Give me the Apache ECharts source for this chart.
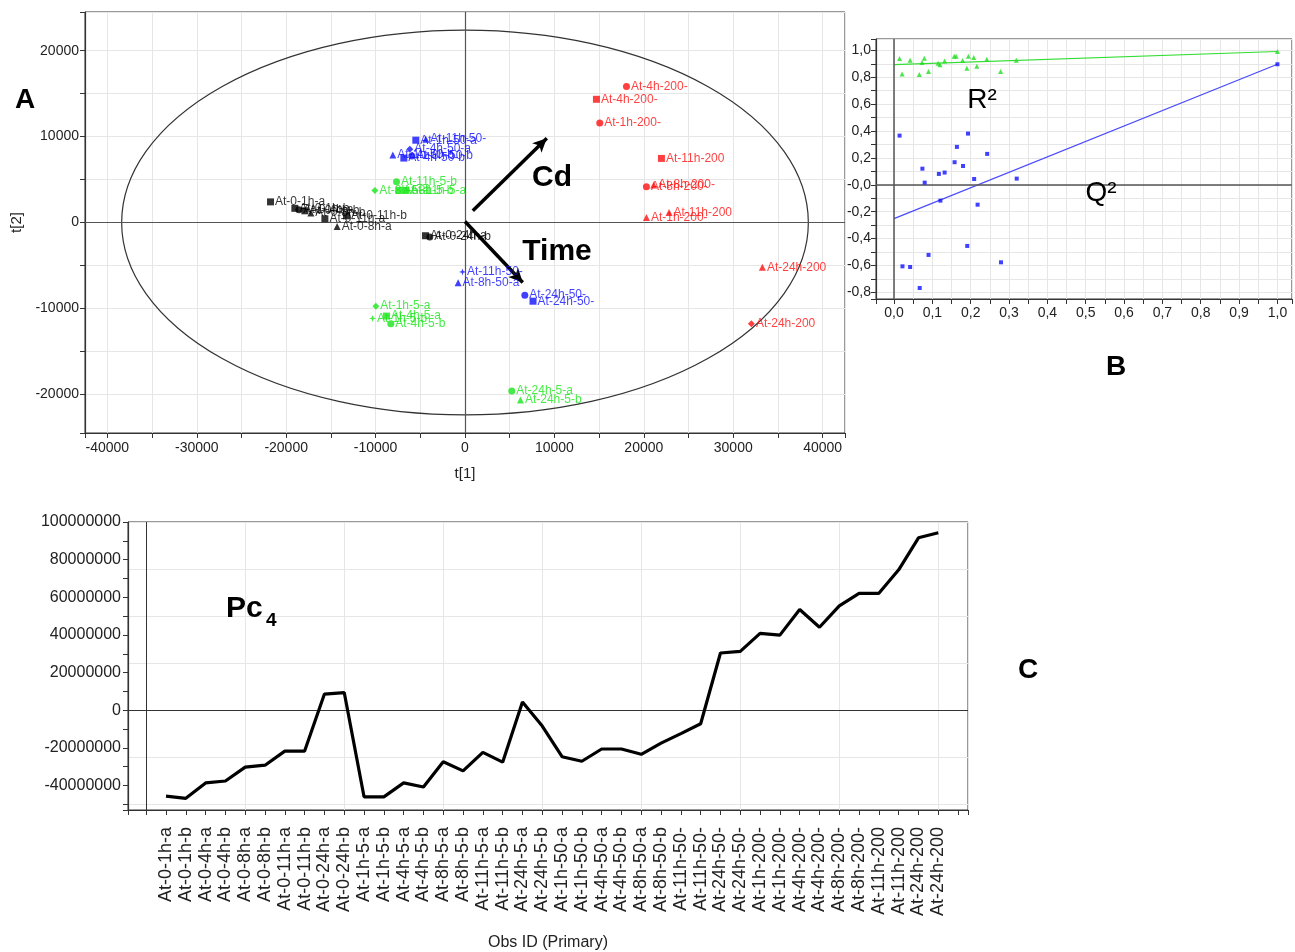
<!DOCTYPE html>
<html>
<head>
<meta charset="utf-8">
<script src="https://cdn.jsdelivr.net/npm/echarts@6/dist/echarts.min.js"></script>
<style>
  html, body { margin: 0; padding: 0; background: #fff; }
  #chart { width: 1295px; height: 952px; }
</style>
</head>
<body>
<div id="chart"></div>
<script>
// ---- panel A : scores t[1] / t[2] ----
const t1Cd0 = [-21750, -19030, -18580, -17910, -17240, -15670, -14300, -13250, -4420, -3940]
const t2Cd0 = [2400, 1650, 1470, 1360, 1120, 430, -460, 780, -1540, -1690]
const obsCd0 = ['At-0-1h-a', 'At-0-1h-b', 'At-0-4h-a', 'At-0-4h-b', 'At-0-8h-b', 'At-0-11h-a', 'At-0-8h-a', 'At-0-11h-b', 'At-0-24h-a', 'At-0-24h-b']

const t1Cd5 = [-7660, -10080, -7400, -6620, -9970, -10340, -8780, -8300, 5230, 6200]
const t2Cd5 = [4750, 3710, 3730, 3730, -9740, -11160, -10890, -11780, -19620, -20660]
const obsCd5 = ['At-11h-5-b', 'At-8h-5-a', 'At-8h-5-b', 'At-11h-5-a', 'At-1h-5-a', 'At-1h-5-b', 'At-4h-5-a', 'At-4h-5-b', 'At-24h-5-a', 'At-24h-5-b']

const t1Cd50 = [-5500, -4380, -6170, -8070, -6840, -5950, -280, -770, 6690, 7610]
const t2Cd50 = [9580, 9700, 8540, 7850, 7500, 7730, -5750, -7020, -8460, -9160]
const obsCd50 = ['At-1h-50-a', 'At-11h-50-', 'At-4h-50-a', 'At-1h-50-b', 'At-4h-50-b', 'At-8h-50-b', 'At-11h-50-', 'At-8h-50-a', 'At-24h-50-', 'At-24h-50-']

const t1Cd200 = [18060, 14700, 15070, 21970, 20290, 21110, 20290, 22820, 33260, 32030]
const t2Cd200 = [15840, 14340, 11590, 7460, 4170, 4370, 580, 1160, -5220, -11780]
const obsCd200 = ['At-4h-200-', 'At-4h-200-', 'At-1h-200-', 'At-11h-200', 'At-8h-200-', 'At-8h-200-', 'At-1h-200-', 'At-11h-200', 'At-24h-200', 'At-24h-200']

// Hotelling T2 ellipse semi axes (t[1], t[2])
const ellipseAxes = [38400, 22400]
// loading arrows [start, end] in score units
const cdArrow = [[870, 1360], [9150, 9820]]
const timeArrow = [[0, 120], [6460, -6990]]

// ---- panel B : permutation test ----
const r2X = [0.0145, 0.021, 0.042, 0.066, 0.073, 0.079, 0.09, 0.115, 0.12, 0.132, 0.157, 0.162, 0.179, 0.19, 0.194, 0.208, 0.216, 0.242, 0.278, 0.319, 1.0]
const r2Y = [0.94, 0.825, 0.927, 0.82, 0.91, 0.942, 0.843, 0.905, 0.893, 0.922, 0.957, 0.957, 0.925, 0.868, 0.957, 0.947, 0.883, 0.935, 0.843, 0.927, 0.992]
const q2X = [0.0145, 0.022, 0.042, 0.067, 0.074, 0.08, 0.09, 0.117, 0.121, 0.132, 0.158, 0.164, 0.18, 0.191, 0.193, 0.209, 0.218, 0.243, 0.279, 0.32, 1.0]
const q2Y = [0.366, -0.607, -0.612, -0.768, 0.12, 0.016, -0.522, 0.081, -0.118, 0.091, 0.168, 0.282, 0.14, -0.455, 0.381, 0.043, -0.148, 0.23, -0.577, 0.046, 0.897]
const r2Fit = [[0, 0.895], [1, 0.992]]
const q2Fit = [[0, -0.252], [1, 0.897]]

// ---- panel C : Pc4 ----
const obsIds = [
  'At-0-1h-a', 'At-0-1h-b', 'At-0-4h-a', 'At-0-4h-b', 'At-0-8h-a', 'At-0-8h-b', 'At-0-11h-a', 'At-0-11h-b', 'At-0-24h-a', 'At-0-24h-b',
  'At-1h-5-a', 'At-1h-5-b', 'At-4h-5-a', 'At-4h-5-b', 'At-8h-5-a', 'At-8h-5-b', 'At-11h-5-a', 'At-11h-5-b', 'At-24h-5-a', 'At-24h-5-b',
  'At-1h-50-a', 'At-1h-50-b', 'At-4h-50-a', 'At-4h-50-b', 'At-8h-50-a', 'At-8h-50-b', 'At-11h-50-', 'At-11h-50-', 'At-24h-50-', 'At-24h-50-',
  'At-1h-200-', 'At-1h-200-', 'At-4h-200-', 'At-4h-200-', 'At-8h-200-', 'At-8h-200-', 'At-11h-200', 'At-11h-200', 'At-24h-200', 'At-24h-200'
]
const pc4 = [
  -45600000, -46800000, -38600000, -37600000, -30200000, -29200000, -21700000, -21700000, 8600000, 9400000,
  -46000000, -46000000, -38600000, -40800000, -27400000, -32200000, -22400000, -27600000, 4400000, -8400000,
  -24700000, -27100000, -20600000, -20600000, -23400000, -17500000, -12400000, -7200000, 30400000, 31300000,
  40800000, 39900000, 53500000, 44100000, 55400000, 62100000, 62100000, 74600000, 91600000, 94300000
]

// marker shapes (style, not data)
const star = 'path://M0,-10L2.5,-2.5L10,0L2.5,2.5L0,10L-2.5,2.5L-10,0L-2.5,-2.5Z'
const symCd0 = ['rect', 'rect', 'circle', 'rect', 'triangle', 'rect', 'triangle', 'rect', 'rect', 'circle']
const symCd5 = ['circle', 'diamond', 'rect', 'rect', 'diamond', star, 'rect', 'circle', 'circle', 'triangle']
const symCd50 = ['rect', 'triangle', 'diamond', 'triangle', 'rect', 'circle', star, 'triangle', 'circle', 'rect']
const symCd200 = ['circle', 'rect', 'circle', 'rect', 'circle', 'triangle', 'triangle', 'triangle', 'triangle', 'diamond']

const FONT = 'Liberation Sans, Arial, Helvetica, sans-serif'
const gridLine = { show: true, lineStyle: { color: '#e6e6e6', width: 1 } }
const axisLineDark = { show: true, onZero: false, lineStyle: { color: '#333', width: 1.2 } }
const tickOut = { show: true, inside: false, length: 5, lineStyle: { color: '#333' } }
const isMult = (v, step) => Math.abs(v / step - Math.round(v / step)) < 1e-6
const comma = v => {
  if (Math.abs(v) < 1e-9) return '-0,0'
  const s = Math.abs(v).toFixed(1).replace('.', ',')
  return v < 0 ? '-' + s : s
}

const scoreSeries = (xs, ys, names, syms, color) => ({
  type: 'scatter',
  xAxisIndex: 0,
  yAxisIndex: 0,
  symbolSize: 7,
  itemStyle: { color: color },
  label: {
    show: true, position: 'right', distance: 1,
    color: color, fontSize: 12, fontFamily: FONT,
    formatter: p => p.name
  },
  data: xs.map((x, i) => ({ name: names[i], value: [x, ys[i]], symbol: syms[i] })),
  z: 5
})

const txt = (x, y, text, font, align) => ({
  type: 'text', x: x, y: y, z: 100,
  style: { text: text, font: font, textAlign: align || 'center', textVerticalAlign: 'middle', fill: '#000', stroke: null, lineWidth: 0 }
})

const chart = echarts.init(document.getElementById('chart'))
chart.setOption({
  backgroundColor: '#fff',
  animation: false,
  textStyle: { fontFamily: FONT },
  grid: [
    { left: 85, right: 450, top: 12, bottom: 519, show: true, borderColor: '#333', borderWidth: 1 },
    { left: 876, right: -4, top: 39, bottom: 653, show: true, borderColor: '#333', borderWidth: 1 },
    { left: 128, right: 327, top: 522, bottom: 137, show: true, borderColor: '#333', borderWidth: 1 }
  ],
  xAxis: [
    {
      type: 'value', gridIndex: 0, min: -42500, max: 42500, minInterval: 5000, maxInterval: 5000,
      name: 't[1]', nameLocation: 'middle', nameGap: 33,
      nameTextStyle: { fontSize: 15, color: '#222', fontFamily: FONT },
      axisLine: axisLineDark, axisTick: tickOut, splitLine: gridLine,
      axisLabel: { fontSize: 14, color: '#222', margin: 8, formatter: v => isMult(v, 10000) ? String(v) : '' }
    },
    {
      type: 'value', gridIndex: 1, min: -0.047, max: 1.038, minInterval: 0.05, maxInterval: 0.05,
      axisLine: axisLineDark, axisTick: tickOut, splitLine: gridLine,
      axisLabel: { fontSize: 14, color: '#222', margin: 7, formatter: v => isMult(v, 0.1) && v > -0.01 ? v.toFixed(1).replace('.', ',') : '' }
    },
    {
      type: 'value', gridIndex: 2, min: -0.92, max: 41.5, minInterval: 1, maxInterval: 1,
      name: 'Obs ID (Primary)', nameLocation: 'middle', nameGap: 125,
      nameTextStyle: { fontSize: 16, color: '#222', fontFamily: FONT },
      axisLine: axisLineDark, axisTick: tickOut, splitLine: { show: false },
      axisLabel: {
        fontSize: 18, color: '#222', rotate: 90, margin: 17,
        formatter: v => (Number.isInteger(v) && v >= 1 && v <= obsIds.length) ? obsIds[v - 1] : ''
      }
    },
    {
      type: 'value', gridIndex: 2, min: -0.92, max: 41.5, minInterval: 5, maxInterval: 5,
      axisLine: { show: false }, axisTick: { show: false }, axisLabel: { show: false },
      splitLine: gridLine
    }
  ],
  yAxis: [
    {
      type: 'value', gridIndex: 0, min: -24500, max: 24500, minInterval: 5000, maxInterval: 5000,
      name: 't[2]', nameLocation: 'middle', nameGap: 58, nameRotate: 90,
      nameTextStyle: { fontSize: 15, color: '#222', fontFamily: FONT },
      axisLine: axisLineDark, axisTick: tickOut, splitLine: gridLine,
      axisLabel: { fontSize: 14, color: '#222', margin: 6, formatter: v => isMult(v, 10000) ? String(v) : '' }
    },
    {
      type: 'value', gridIndex: 1, min: -0.85, max: 1.085, minInterval: 0.1, maxInterval: 0.1,
      axisLine: axisLineDark, axisTick: tickOut, splitLine: gridLine,
      axisLabel: { fontSize: 14, color: '#222', margin: 5, formatter: v => isMult(v, 0.2) ? comma(v) : '' }
    },
    {
      type: 'value', gridIndex: 2, min: -53000000, max: 100000000, minInterval: 10000000, maxInterval: 10000000,
      axisLine: axisLineDark, axisTick: tickOut, splitLine: { show: false },
      axisLabel: { fontSize: 16, color: '#222', margin: 7, formatter: v => isMult(v, 20000000) ? String(v) : '' }
    },
    {
      type: 'value', gridIndex: 2, min: -53000000, max: 100000000, minInterval: 25000000, maxInterval: 25000000,
      axisLine: { show: false }, axisTick: { show: false }, axisLabel: { show: false },
      splitLine: gridLine
    }
  ],
  series: [
    // panel A
    {
      type: 'custom',
      xAxisIndex: 0,
      yAxisIndex: 0,
      silent: true,
      data: [[0, 0, ellipseAxes[0], ellipseAxes[1]]],
      encode: { x: 0, y: 1 },
      renderItem: (params, api) => {
        const c = api.coord([api.value(0), api.value(1)])
        const s = api.size([api.value(2), api.value(3)])
        const rx = s[0], ry = s[1]
        return {
          type: 'path',
          shape: {
            pathData: 'M' + (c[0] - rx) + ' ' + c[1] +
              ' A' + rx + ' ' + ry + ' 0 1 0 ' + (c[0] + rx) + ' ' + c[1] +
              ' A' + rx + ' ' + ry + ' 0 1 0 ' + (c[0] - rx) + ' ' + c[1] + ' Z'
          },
          style: { fill: 'none', stroke: '#333', lineWidth: 1.2 }
        }
      },
      markLine: {
        silent: true, symbol: 'none', label: { show: false },
        lineStyle: { color: '#555', width: 1.2, type: 'solid' },
        data: [{ xAxis: 0 }, { yAxis: 0 }]
      },
      z: 2
    },
    scoreSeries(t1Cd0, t2Cd0, obsCd0, symCd0, '#000000'),
    scoreSeries(t1Cd5, t2Cd5, obsCd5, symCd5, '#19e619'),
    scoreSeries(t1Cd50, t2Cd50, obsCd50, symCd50, '#1010ff'),
    Object.assign(scoreSeries(t1Cd200, t2Cd200, obsCd200, symCd200, '#ff1010'), {
      markLine: {
        silent: true, symbol: ['none', 'arrow'], symbolSize: [10, 14], label: { show: false },
        lineStyle: { color: '#000', width: 3.5, type: 'solid' },
        data: [
          [{ coord: cdArrow[0] }, { coord: cdArrow[1] }],
          [{ coord: timeArrow[0] }, { coord: timeArrow[1] }]
        ]
      }
    }),
    // panel B
    {
      type: 'line', xAxisIndex: 1, yAxisIndex: 1, data: r2Fit, symbol: 'none',
      lineStyle: { color: '#33dd33', width: 1.2 }, silent: true,
      markLine: {
        silent: true, symbol: 'none', label: { show: false },
        lineStyle: { color: '#555', width: 1.5, type: 'solid' },
        data: [{ xAxis: 0 }, { yAxis: 0 }]
      }
    },
    {
      type: 'line', xAxisIndex: 1, yAxisIndex: 1, data: q2Fit, symbol: 'none',
      lineStyle: { color: '#4a4aff', width: 1.2 }, silent: true
    },
    {
      type: 'scatter', xAxisIndex: 1, yAxisIndex: 1, symbol: 'triangle', symbolSize: 5,
      itemStyle: { color: '#22dd22' }, data: r2X.map((x, i) => [x, r2Y[i]]), z: 5
    },
    {
      type: 'scatter', xAxisIndex: 1, yAxisIndex: 1, symbol: 'rect', symbolSize: 4,
      itemStyle: { color: '#1010ff' }, data: q2X.map((x, i) => [x, q2Y[i]]), z: 5
    },
    // panel C
    {
      type: 'line', xAxisIndex: 2, yAxisIndex: 2, symbol: 'none',
      lineStyle: { color: '#000', width: 3.2 },
      data: pc4.map((v, i) => [i + 1, v]),
      markLine: {
        silent: true, symbol: 'none', label: { show: false },
        lineStyle: { color: '#333', width: 1, type: 'solid' },
        data: [{ xAxis: 0 }, { yAxis: 0 }]
      },
      z: 5
    }
  ],
  graphic: [
    txt(25, 100, 'A', 'bold 28px ' + FONT),
    txt(1116, 367, 'B', 'bold 28px ' + FONT),
    txt(1028, 670, 'C', 'bold 28px ' + FONT),
    txt(552, 178, 'Cd', 'bold 30px ' + FONT),
    txt(557, 252, 'Time', 'bold 30px ' + FONT),
    txt(982, 100, 'R²', '28px ' + FONT),
    txt(1101, 193, 'Q²', '28px ' + FONT),
    txt(226, 609, 'Pc', 'bold 30px ' + FONT, 'left'),
    txt(266, 621, '4', 'bold 19px ' + FONT, 'left')
  ]
})
</script>
</body>
</html>
